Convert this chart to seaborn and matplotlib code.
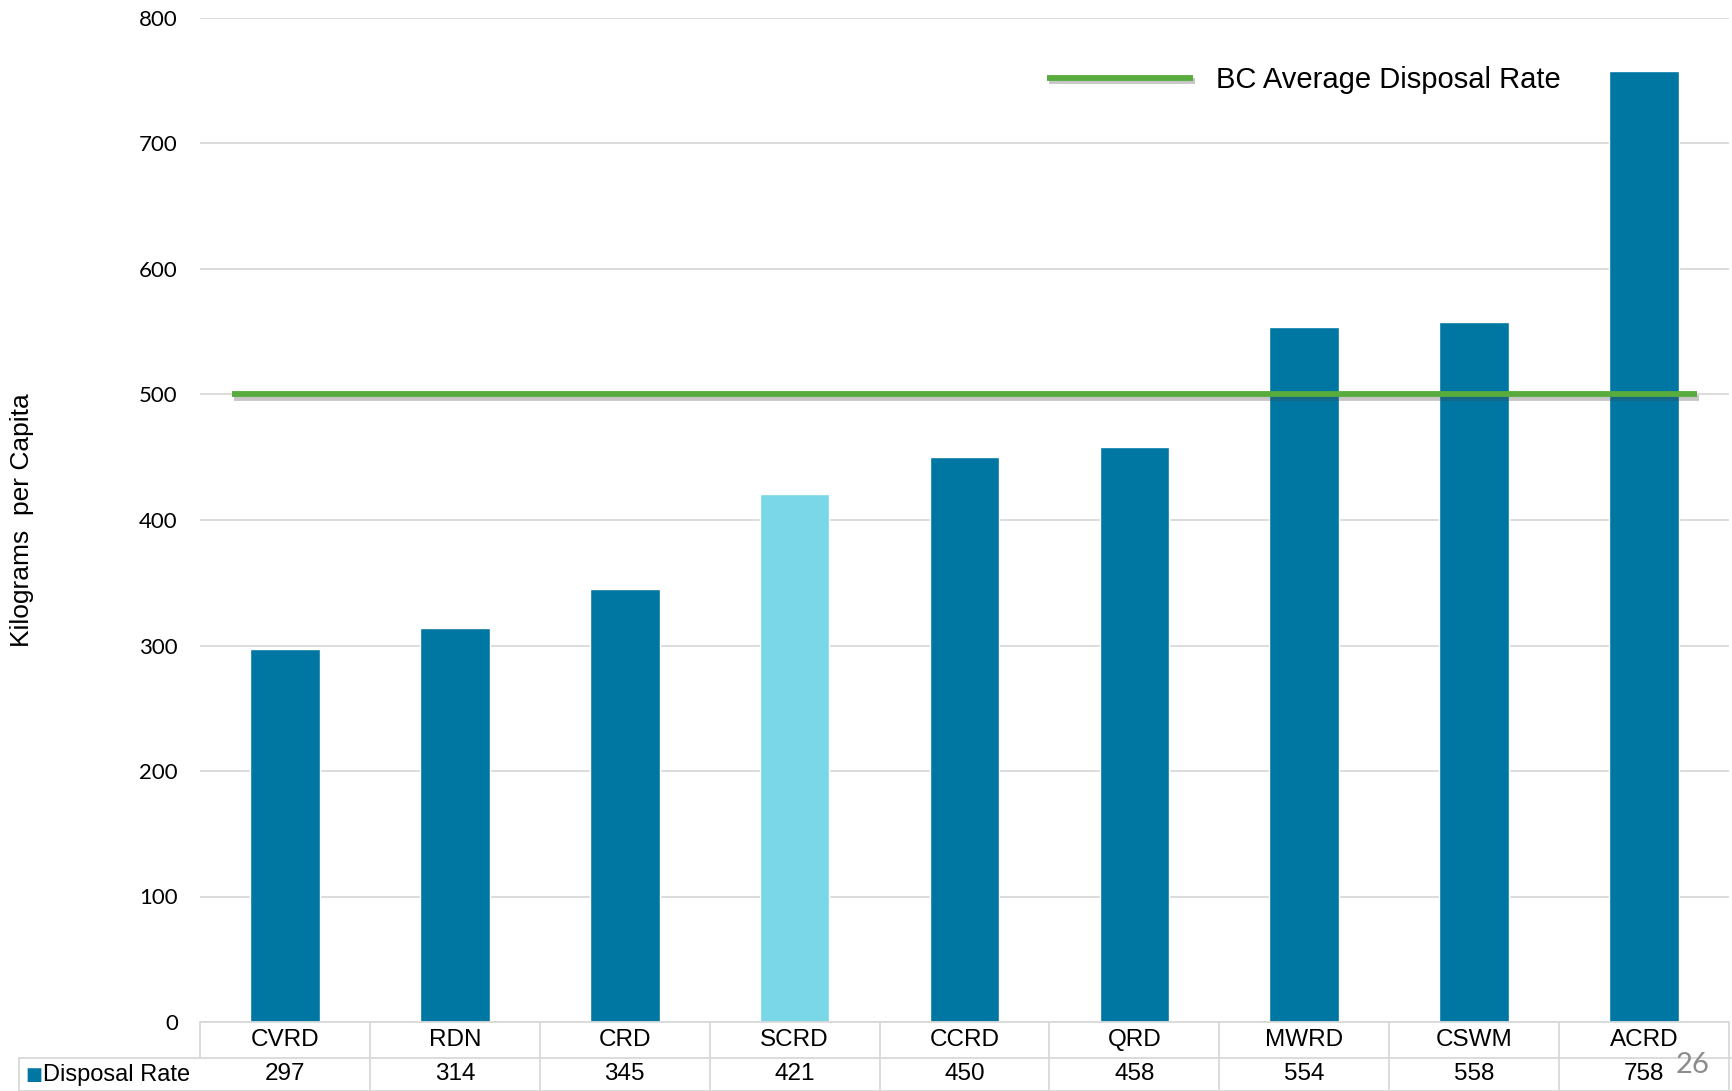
import matplotlib
matplotlib.use("Agg")
import matplotlib.pyplot as plt
import matplotlib.patheffects as pe
import matplotlib.transforms as mtrans
import seaborn as sns

# ─── Data ─────────────────────────────────────────────────────────────────────
regions = ["CVRD", "RDN", "CRD", "SCRD", "CCRD", "QRD", "MWRD", "CSWM", "ACRD"]
disposal = [297, 314, 345, 421, 450, 458, 554, 558, 758]
highlight = "SCRD"
bc_average = 500
avg_span = (-0.31, 8.31)
y_ticks = [0, 100, 200, 300, 400, 500, 600, 700, 800]

# ─── Style ────────────────────────────────────────────────────────────────────
DARK = "#0077A3"
LIGHT = "#79D7E8"
GREEN = "#58AC3E"
GRID = "#d9d9d9"
TEXT = "#000000"
TABLE_FONT = ["Liberation Sans", "DejaVu Sans"]
TICK_FONT = ["Lato", "DejaVu Sans"]

sns.set_style("white")
plt.rcParams["text.color"] = TEXT
plt.rcParams["ytick.color"] = TEXT

W, H = 1733, 1091
fig = plt.figure(figsize=(W / 100, H / 100), dpi=100)
ax = fig.add_axes([200 / W, 1 - 1022 / H, (1729 - 200) / W, (1022 - 18) / H])

palette = [LIGHT if r == highlight else DARK for r in regions]
sns.barplot(x=regions, y=disposal, hue=regions, palette=palette, width=0.41,
            saturation=1, legend=False, ax=ax, zorder=3)

ax.set_xlim(-0.5, len(regions) - 0.5)
ax.set_ylim(0, 800)
ax.set_yticks(y_ticks)
ax.set_yticklabels([str(t) for t in y_ticks], fontsize=16, family=TICK_FONT,
                   color=TEXT)
ax.tick_params(axis="y", length=0, pad=16)
ax.set_xticks([])
ax.set_xlabel("")
ax.yaxis.grid(True, color=GRID, linewidth=1.3, zorder=0)
ax.set_axisbelow(True)
for sp in ax.spines.values():
    sp.set_visible(False)

# BC average line
line, = ax.plot(avg_span, [bc_average, bc_average], color=GREEN, linewidth=4.2,
                solid_capstyle="butt", zorder=4, label="BC Average Disposal Rate",
                path_effects=[pe.SimpleLineShadow(offset=(1.5, -2.5), alpha=0.3,
                                                  shadow_color="#444444"),
                              pe.Normal()])
leg = ax.legend(handles=[line], loc="center left", frameon=False,
                bbox_to_anchor=(1047 / W, 1 - 80 / H), bbox_transform=fig.transFigure,
                borderpad=0, borderaxespad=0, handlelength=5.0, handletextpad=0.8,
                prop={"family": TABLE_FONT, "size": 21})
for t in leg.get_texts():
    t.set_color(TEXT)

ax.set_ylabel("")
fig.text(22 / W, 1 - 520 / H, "Kilograms  per Capita", rotation=90,
         ha="center", va="center", fontsize=19, family=TABLE_FONT, color=TEXT)

# ─── Data table under the axis ───────────────────────────────────────────────
ax_h = 1022 - 18
row1_bot = -(1058 - 1022) / ax_h
row2_bot = -(1091 - 1022) / ax_h
row1_mid = row1_bot / 2
row2_mid = (row1_bot + row2_bot) / 2
blend = mtrans.blended_transform_factory(ax.transData, ax.transAxes)
fig_blend = mtrans.blended_transform_factory(fig.transFigure, ax.transAxes)

n = len(regions)
lk = dict(color=GRID, linewidth=1.3, clip_on=False, zorder=5)
ax.plot([-0.5, n - 0.5], [0, 0], transform=blend, **lk)
for i in range(n + 1):
    x = i - 0.5
    bot = row2_bot if i > 0 else row1_bot
    ax.plot([x, x], [0, bot], transform=blend, **lk)
# second row runs out to the series label
ax.add_line(plt.Line2D([19 / W, 1], [row1_bot, row1_bot], transform=fig_blend, **lk))
ax.add_line(plt.Line2D([19 / W, 19 / W], [row1_bot, row2_bot], transform=fig_blend, **lk))
ax.add_line(plt.Line2D([19 / W, 1], [row2_bot, row2_bot], transform=fig_blend, **lk))

for i, (r, v) in enumerate(zip(regions, disposal)):
    ax.text(i, row1_mid, r, transform=blend, ha="center", va="center",
            fontsize=17.5, family=TABLE_FONT, color=TEXT)
    ax.text(i, row2_mid, str(v), transform=blend, ha="center", va="center",
            fontsize=17.5, family=TABLE_FONT, color=TEXT)

ax.text(25 / W, row2_mid, "■", transform=fig_blend, ha="left", va="center",
        fontsize=13, color=DARK, family=["DejaVu Sans"])
ax.text(43 / W, row2_mid, "Disposal Rate", transform=fig_blend, ha="left",
        va="center", fontsize=17, family=TABLE_FONT, color=TEXT)

# page number
fig.text(1693 / W, 1 - 1065 / H, "26", ha="center", va="center", fontsize=21,
         color="#8c8c8c", family=TICK_FONT)

fig.savefig("out.png", dpi=100)
